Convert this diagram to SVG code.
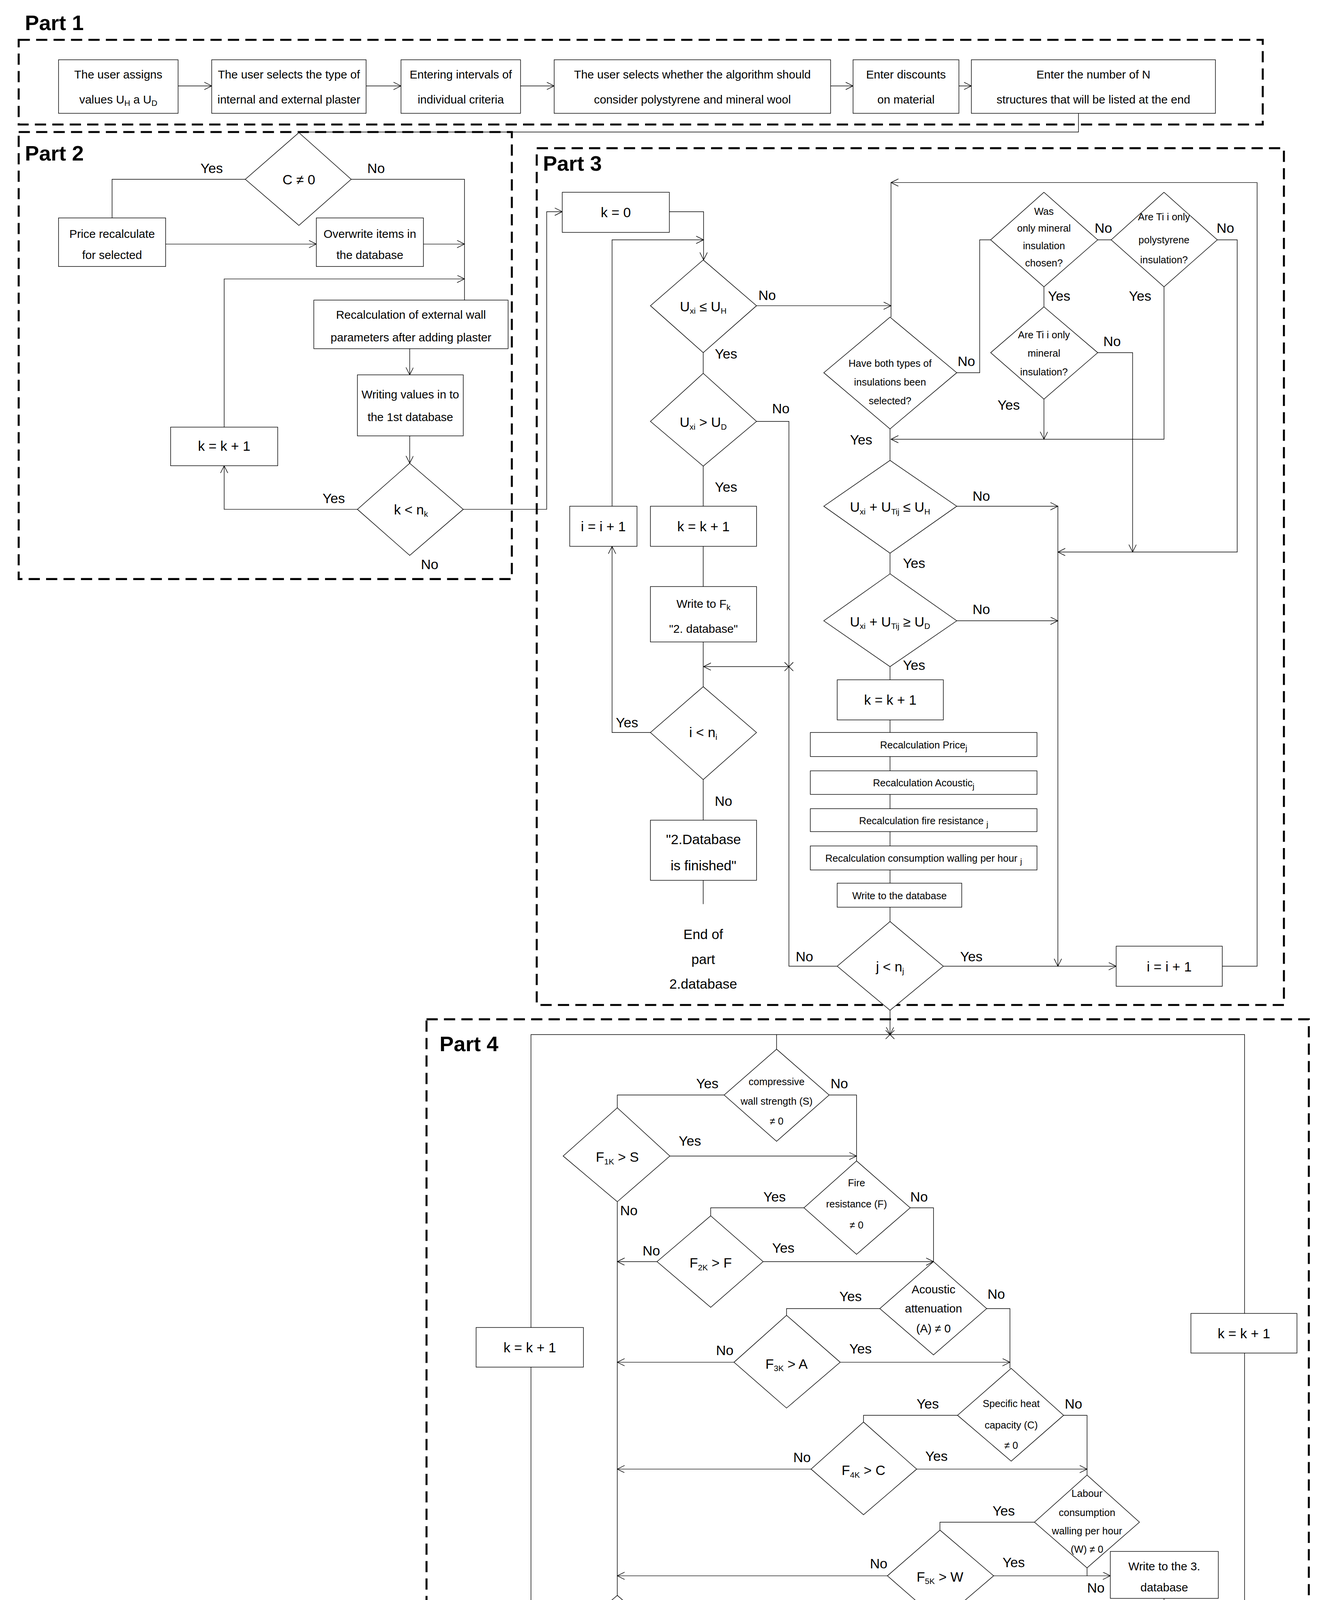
<svg xmlns="http://www.w3.org/2000/svg" width="3392" height="4999" viewBox="0 0 3392 4999">
<style>
.b{fill:#fff;stroke:#000;stroke-width:0.45}
.c{fill:none;stroke:#000;stroke-width:0.45}
.d{fill:none;stroke:#000;stroke-width:1.6;stroke-dasharray:9 5}
text{font-family:"Liberation Sans Narrow","Liberation Sans",Arial,sans-serif;fill:#000}
.t{font-size:9.3px;text-anchor:middle}
.s{font-size:8px;text-anchor:middle}
.l{font-size:11px;text-anchor:middle}
.p{font-size:17px;font-weight:bold;font-family:"Liberation Sans",Arial,sans-serif}
.u{font-size:6.5px}
</style>
<defs>
<marker id="a" markerUnits="userSpaceOnUse" markerWidth="7" markerHeight="7" refX="6" refY="3" orient="auto"><path d="M0,0 L6,3 L0,6" fill="none" stroke="#000" stroke-width="0.45"/></marker>
</defs>
<rect width="3392" height="4999" fill="#fff"/>
<g transform="scale(3.188)">
<g id="frames">
<rect class="d" x="15" y="32" width="999" height="68"/>
<rect class="d" x="15" y="106" width="396" height="359"/>
<rect class="d" x="431" y="119" width="600" height="688"/>
<rect class="d" x="342.5" y="818.5" width="708.5" height="738.5"/>
<text class="p" x="20" y="24">Part 1</text>
<text class="p" x="20" y="129">Part 2</text>
<text class="p" x="436" y="137">Part 3</text>
<text class="p" x="353" y="844">Part 4</text>
</g>
<g id="connectors">
<polyline class="c" marker-end="url(#a)" points="143,69 170,69"/>
<polyline class="c" marker-end="url(#a)" points="294,69 322,69"/>
<polyline class="c" marker-end="url(#a)" points="418,69 445,69"/>
<polyline class="c" marker-end="url(#a)" points="667,69 685,69"/>
<polyline class="c" marker-end="url(#a)" points="770,69 780,69"/>
<polyline class="c" points="866,91 866,106 240,106"/>
<polyline class="c" points="197,144 90,144 90,175"/>
<polyline class="c" marker-end="url(#a)" points="133,196 254,196"/>
<polyline class="c" points="282,144 373,144 373,241"/>
<polyline class="c" marker-end="url(#a)" points="340,196 373,196"/>
<polyline class="c" marker-end="url(#a)" points="180,343 180,224 373,224"/>
<polyline class="c" marker-end="url(#a)" points="329,280 329,301"/>
<polyline class="c" marker-end="url(#a)" points="329,350 329,372"/>
<polyline class="c" marker-end="url(#a)" points="287,409 180,409 180,374"/>
<polyline class="c" marker-end="url(#a)" points="372,409 439,409 439,170 451.5,170"/>
<polyline class="c" marker-end="url(#a)" points="537.5,170 565,170 565,208.7"/>
<polyline class="c" marker-end="url(#a)" points="491.5,406.5 491.5,192.6 565,192.6"/>
<polyline class="c" points="564.7,283.2 564.7,299.8"/>
<polyline class="c" marker-end="url(#a)" points="607.5,245.5 715.5,245.5"/>
<polyline class="c" points="564.7,374.3 564.7,551.4"/>
<polyline class="c" marker-end="url(#a)" points="633.5,535.3 565,535.3"/>
<polyline class="c" points="607.5,338.4 633.5,338.4 633.5,775.9 672.3,775.9"/>
<path class="c" d="M630,531.8 L637,538.8 M637,531.8 L630,538.8"/>
<polyline class="c" marker-end="url(#a)" points="522.3,588.2 491.5,588.2 491.5,438.7"/>
<polyline class="c" points="564.7,626 564.7,726"/>
<polyline class="c" marker-end="url(#a)" points="981.5,775.9 1009.5,775.9 1009.5,146.6 715.5,146.6"/>
<polyline class="c" points="715.5,146.6 715.5,254.7"/>
<polyline class="c" points="768.3,299.3 786.7,299.3 786.7,192.6 795.5,192.6"/>
<polyline class="c" points="881.5,192.6 892.3,192.6"/>
<polyline class="c" marker-end="url(#a)" points="977.5,192.6 993.5,192.6 993.5,443.3 849.5,443.3"/>
<polyline class="c" marker-end="url(#a)" points="934.7,230.3 934.7,352.7 715.5,352.7"/>
<polyline class="c" points="838.3,230.3 838.3,246.4"/>
<polyline class="c" marker-end="url(#a)" points="881.5,283.2 909.5,283.2 909.5,443.3"/>
<polyline class="c" marker-end="url(#a)" points="838.3,320.5 838.3,352.7"/>
<polyline class="c" points="714.7,344.4 714.7,369.7"/>
<polyline class="c" marker-end="url(#a)" points="768.3,406.5 849.5,406.5"/>
<polyline class="c" marker-end="url(#a)" points="849.5,406.5 849.5,775.9"/>
<polyline class="c" points="714.7,444.2 714.7,460.8"/>
<polyline class="c" marker-end="url(#a)" points="768.3,498.5 849.5,498.5"/>
<polyline class="c" points="714.7,535.3 714.7,740"/>
<polyline class="c" marker-end="url(#a)" points="757.5,775.9 896.3,775.9"/>
<polyline class="c" marker-end="url(#a)" points="714.7,811.3 714.7,830.8"/>
<path class="c" d="M711.2,827.3 L718.2,834.3 M718.2,827.3 L711.2,834.3"/>
<polyline class="c" points="452.6,1317.8 426.4,1317.8 426.4,830.8 999.4,830.8 999.4,1332.5 977.4,1332.5"/>
<polyline class="c" points="623.6,830.8 623.6,842.5"/>
<polyline class="c" points="581.5,879.3 495.7,879.3 495.7,889.6"/>
<polyline class="c" points="665.8,879.3 687.8,879.3 687.8,932.2"/>
<polyline class="c" marker-end="url(#a)" points="537.9,928.3 687.8,928.3"/>
<polyline class="c" points="495.7,965 495.7,1281.1"/>
<polyline class="c" points="645.6,969.9 570.7,969.9 570.7,976.3"/>
<polyline class="c" points="730.9,969.9 749.6,969.9 749.6,1013.1"/>
<polyline class="c" marker-end="url(#a)" points="527.6,1013.1 495.7,1013.1"/>
<polyline class="c" marker-end="url(#a)" points="612.8,1013.1 749.6,1013.1"/>
<polyline class="c" points="706.5,1050.8 631.6,1050.8 631.6,1056.2"/>
<polyline class="c" points="792.3,1050.8 811,1050.8 811,1098.8"/>
<polyline class="c" marker-end="url(#a)" points="589.4,1093.9 495.7,1093.9"/>
<polyline class="c" marker-end="url(#a)" points="674.7,1093.9 811,1093.9"/>
<polyline class="c" points="768.9,1136.5 693.4,1136.5 693.4,1141.9"/>
<polyline class="c" points="854.1,1136.5 872.9,1136.5 872.9,1184.5"/>
<polyline class="c" marker-end="url(#a)" points="651.3,1179.7 495.7,1179.7"/>
<polyline class="c" marker-end="url(#a)" points="736.1,1179.7 872.9,1179.7"/>
<polyline class="c" points="830.7,1222.3 754.8,1222.3 754.8,1228.7"/>
<polyline class="c" points="872.9,1259 872.9,1265.4"/>
<polyline class="c" marker-end="url(#a)" points="712.6,1265.4 495.7,1265.4"/>
<polyline class="c" marker-end="url(#a)" points="797.9,1265.4 891.6,1265.4"/>
<polyline class="c" points="934.7,1283.5 934.7,1416.3"/>
<polyline class="c" marker-end="url(#a)" points="891.6,1454 864.9,1454 864.9,1393.8 891.6,1393.8"/>
<polyline class="c" points="977.4,1454 994.7,1454 994.7,1484.9"/>
<polyline class="c" points="495.7,1355 495.7,1386.9"/>
</g>
<g id="n1"><rect class="b" x="47" y="48" width="96" height="43"/><text class="t" x="95" y="63">The user assigns</text><text class="t" x="95" y="83">values U<tspan class="u" dy="2">H</tspan><tspan dy="-2"> a U</tspan><tspan class="u" dy="2">D</tspan></text></g>
<g id="n2"><rect class="b" x="170" y="48" width="124" height="43"/><text class="t" x="232" y="63">The user selects the type of</text><text class="t" x="232" y="83">internal and external plaster</text></g>
<g id="n3"><rect class="b" x="322" y="48" width="96" height="43"/><text class="t" x="370" y="63">Entering intervals of</text><text class="t" x="370" y="83">individual criteria</text></g>
<g id="n4"><rect class="b" x="445" y="48" width="222" height="43"/><text class="t" x="556" y="63">The user selects whether the algorithm should</text><text class="t" x="556" y="83">consider polystyrene and mineral wool</text></g>
<g id="n5"><rect class="b" x="685" y="48" width="85" height="43"/><text class="t" x="727.5" y="63">Enter discounts</text><text class="t" x="727.5" y="83">on material</text></g>
<g id="n6"><rect class="b" x="780" y="48" width="196" height="43"/><text class="t" x="878" y="63">Enter the number of N</text><text class="t" x="878" y="83">structures that will be listed at the end</text></g>
<g id="c0"><polygon class="b" points="240,106.5 282,144 240,181 197,144"/><text class="l" x="240" y="148">C ≠ 0</text><text class="l" x="170" y="139">Yes</text><text class="l" x="302" y="139">No</text></g>
<g id="price"><rect class="b" x="47" y="175" width="86" height="39"/><text class="t" x="90" y="191">Price recalculate</text><text class="t" x="90" y="208">for selected</text></g>
<g id="overw"><rect class="b" x="254" y="175" width="86" height="39"/><text class="t" x="297" y="191">Overwrite items in</text><text class="t" x="297" y="208">the database</text></g>
<g id="recalc"><rect class="b" x="252" y="241" width="156" height="39"/><text class="t" x="330" y="256">Recalculation of external wall</text><text class="t" x="330" y="274">parameters after adding plaster</text></g>
<g id="writ1"><rect class="b" x="287" y="301" width="85" height="49"/><text class="t" x="329.5" y="320">Writing values in to</text><text class="t" x="329.5" y="338">the 1st database</text></g>
<g id="knk"><polygon class="b" points="329,372 372,409 329,446 287,409"/><text class="l" x="330" y="413">k &lt; n<tspan class="u" dy="2">k</tspan></text><text class="l" x="268" y="404">Yes</text><text class="l" x="345" y="457">No</text></g>
<g id="k1a"><rect class="b" x="137" y="343" width="86" height="31"/><text class="l" x="180" y="362">k = k + 1</text></g>
<g id="k0"><rect class="b" x="451.5" y="154.4" width="86" height="32.2"/><text class="l" x="494.5" y="174.5">k =  0</text></g>
<g id="uxh"><polygon class="b" points="564.7,208.7 607.5,245.5 564.7,283.2 522.3,245.5"/><text class="l" x="564.7" y="250">U<tspan class="u" dy="2">xi</tspan><tspan dy="-2"> ≤ U</tspan><tspan class="u" dy="2">H</tspan></text><text class="l" x="616" y="241">No</text><text class="l" x="583" y="288">Yes</text></g>
<g id="uxd"><polygon class="b" points="564.7,299.8 607.5,338.4 564.7,374.3 522.3,338.4"/><text class="l" x="564.7" y="343">U<tspan class="u" dy="2">xi</tspan><tspan dy="-2"> &gt; U</tspan><tspan class="u" dy="2">D</tspan></text><text class="l" x="627" y="332">No</text><text class="l" x="583" y="395">Yes</text></g>
<g id="k1b"><rect class="b" x="522.3" y="406.5" width="85.2" height="32.2"/><text class="l" x="564.9" y="426.5">k = k + 1</text></g>
<g id="i1a"><rect class="b" x="457.5" y="406.5" width="54" height="32.2"/><text class="l" x="484.5" y="426.5">i = i + 1</text></g>
<g id="wfk"><rect class="b" x="522.3" y="471" width="85.2" height="44.5"/><text class="t" x="564.9" y="488">Write to F<tspan class="u" dy="2">k</tspan></text><text class="t" x="564.9" y="508">"2. database"</text></g>
<g id="ini"><polygon class="b" points="564.7,551.4 607.5,588.2 564.7,626 522.3,588.2"/><text class="l" x="564.7" y="592">i &lt; n<tspan class="u" dy="2">i</tspan></text><text class="l" x="503.5" y="584">Yes</text><text class="l" x="581" y="647">No</text></g>
<g id="fin"><rect class="b" x="522.3" y="658.6" width="85.2" height="48.3"/><text class="l" x="564.9" y="678">"2.Database</text><text class="l" x="564.9" y="699">is finished"</text></g>
<g id="end2"><text class="l" x="564.7" y="754">End of</text><text class="l" x="564.7" y="774">part</text><text class="l" x="564.7" y="794">2.database</text></g>
<g id="both"><polygon class="b" points="714.7,254.7 768.3,299.3 714.7,344.4 661.5,299.3"/><text class="s" x="714.7" y="294.5">Have both types of</text><text class="s" x="714.7" y="309.5">insulations been</text><text class="s" x="714.7" y="324.5">selected?</text><text class="l" x="776" y="294">No</text><text class="l" x="691.5" y="357">Yes</text></g>
<g id="wasmin"><polygon class="b" points="838.3,154.4 881.5,192.6 838.3,230.3 795.5,192.6"/><text class="s" x="838.3" y="172.5">Was</text><text class="s" x="838.3" y="186">only mineral</text><text class="s" x="838.3" y="200">insulation</text><text class="s" x="838.3" y="214">chosen?</text><text class="l" x="886" y="187">No</text><text class="l" x="850.5" y="241.5">Yes</text></g>
<g id="poly"><polygon class="b" points="934.7,154.4 977.5,192.6 934.7,230.3 892.3,192.6"/><text class="s" x="934.7" y="177">Are Ti i only</text><text class="s" x="934.7" y="195.5">polystyrene</text><text class="s" x="934.7" y="211.5">insulation?</text><text class="l" x="984" y="187">No</text><text class="l" x="915.5" y="241.5">Yes</text></g>
<g id="onlymin"><polygon class="b" points="838.3,246.4 881.5,283.2 838.3,320.5 795.5,283.2"/><text class="s" x="838.3" y="271.5">Are Ti i only</text><text class="s" x="838.3" y="286.5">mineral</text><text class="s" x="838.3" y="301.5">insulation?</text><text class="l" x="893" y="278">No</text><text class="l" x="810" y="329">Yes</text></g>
<g id="uh2"><polygon class="b" points="714.7,369.7 768.3,406.5 714.7,444.2 661.5,406.5"/><text class="l" x="714.7" y="411">U<tspan class="u" dy="2">xi</tspan><tspan dy="-2"> + U</tspan><tspan class="u" dy="2">Tij</tspan><tspan dy="-2"> ≤ U</tspan><tspan class="u" dy="2">H</tspan></text><text class="l" x="788" y="402">No</text><text class="l" x="734" y="456">Yes</text></g>
<g id="ud2"><polygon class="b" points="714.7,460.8 768.3,498.5 714.7,535.3 661.5,498.5"/><text class="l" x="714.7" y="503">U<tspan class="u" dy="2">xi</tspan><tspan dy="-2">  + U</tspan><tspan class="u" dy="2">Tij</tspan><tspan dy="-2"> ≥ U</tspan><tspan class="u" dy="2">D</tspan></text><text class="l" x="788" y="493">No</text><text class="l" x="734" y="538">Yes</text></g>
<g id="k1c"><rect class="b" x="672.3" y="545.9" width="85.2" height="32.2"/><text class="l" x="714.9" y="566">k = k + 1</text></g>
<g id="rp"><rect class="b" x="650.7" y="588.2" width="182" height="19.3"/><text class="s" x="741.7" y="601">Recalculation Price<tspan class="u" dy="2">j</tspan></text></g>
<g id="ra"><rect class="b" x="650.7" y="619" width="182" height="18.9"/><text class="s" x="741.7" y="631.5">Recalculation Acoustic<tspan class="u" dy="2">j</tspan></text></g>
<g id="rf"><rect class="b" x="650.7" y="649.4" width="182" height="18.4"/><text class="s" x="741.7" y="662">Recalculation fire resistance <tspan class="u" dy="2">j</tspan></text></g>
<g id="rc"><rect class="b" x="650.7" y="679.3" width="182" height="19.3"/><text class="s" x="741.7" y="692">Recalculation consumption walling per hour <tspan class="u" dy="2">j</tspan></text></g>
<g id="wdb"><rect class="b" x="672.3" y="709.2" width="100" height="19.3"/><text class="s" x="722.3" y="722">Write to the database</text></g>
<g id="jnj"><polygon class="b" points="714.7,740 757.5,775.9 714.7,811.3 672.3,775.9"/><text class="l" x="714.7" y="780">j &lt; n<tspan class="u" dy="2">j</tspan></text><text class="l" x="646" y="772">No</text><text class="l" x="780" y="772">Yes</text></g>
<g id="i1b"><rect class="b" x="896.3" y="759.8" width="85.2" height="32.2"/><text class="l" x="938.9" y="780">i = i + 1</text></g>
<g id="comp"><polygon class="b" points="623.6,842.5 665.8,879.3 623.6,916.5 581.5,879.3"/><text class="s" x="623.6" y="871.5">compressive</text><text class="s" x="623.6" y="887">wall strength (S)</text><text class="s" x="623.6" y="903">≠ 0</text><text class="l" x="568" y="874">Yes</text><text class="l" x="674" y="874">No</text></g>
<g id="f1"><polygon class="b" points="495.7,889.6 537.9,928.3 495.7,965 452.2,928.3"/><text class="l" x="495.7" y="933">F<tspan class="u" dy="2">1K</tspan><tspan dy="-2"> &gt; S</tspan></text><text class="l" x="554" y="920">Yes</text><text class="l" x="505" y="976">No</text></g>
<g id="fire"><polygon class="b" points="687.8,932.2 730.9,969.9 687.8,1007.2 645.6,969.9"/><text class="s" x="687.8" y="952.5">Fire</text><text class="s" x="687.8" y="969.5">resistance (F)</text><text class="s" x="687.8" y="986.5">≠ 0</text><text class="l" x="622" y="965">Yes</text><text class="l" x="738" y="965">No</text></g>
<g id="f2"><polygon class="b" points="570.7,976.3 612.8,1013.1 570.7,1049.8 527.6,1013.1"/><text class="l" x="570.7" y="1018">F<tspan class="u" dy="2">2K</tspan><tspan dy="-2"> &gt; F</tspan></text><text class="l" x="523" y="1008">No</text><text class="l" x="629" y="1006">Yes</text></g>
<g id="acou"><polygon class="b" points="749.6,1013.1 792.3,1050.8 749.6,1088 706.5,1050.8"/><text class="t" x="749.6" y="1038.5">Acoustic</text><text class="t" x="749.6" y="1054">attenuation</text><text class="t" x="749.6" y="1070">(A) ≠ 0</text><text class="l" x="683" y="1045">Yes</text><text class="l" x="800" y="1043">No</text></g>
<g id="f3"><polygon class="b" points="631.6,1056.2 674.7,1093.9 631.6,1130.7 589.4,1093.9"/><text class="l" x="631.6" y="1099">F<tspan class="u" dy="2">3K</tspan><tspan dy="-2"> &gt; A</tspan></text><text class="l" x="582" y="1088">No</text><text class="l" x="691" y="1087">Yes</text></g>
<g id="spec"><polygon class="b" points="812,1098.8 854.1,1136.5 812,1173.3 768.9,1136.5"/><text class="s" x="812" y="1130">Specific heat</text><text class="s" x="812" y="1147">capacity (C)</text><text class="s" x="812" y="1163.5">≠ 0</text><text class="l" x="745" y="1131">Yes</text><text class="l" x="862" y="1131">No</text></g>
<g id="f4"><polygon class="b" points="693.4,1141.9 736.1,1179.7 693.4,1216.4 651.3,1179.7"/><text class="l" x="693.4" y="1184.5">F<tspan class="u" dy="2">4K</tspan><tspan dy="-2"> &gt; C</tspan></text><text class="l" x="644" y="1174">No</text><text class="l" x="752" y="1173">Yes</text></g>
<g id="lab"><polygon class="b" points="872.9,1184.5 915,1222.3 872.9,1259 830.7,1222.3"/><text class="s" x="872.9" y="1202">Labour</text><text class="s" x="872.9" y="1217.5">consumption</text><text class="s" x="872.9" y="1232">walling per hour</text><text class="s" x="872.9" y="1247">(W) ≠ 0</text><text class="l" x="806" y="1217">Yes</text><text class="l" x="880" y="1279">No</text></g>
<g id="f5"><polygon class="b" points="754.8,1228.7 797.9,1265.4 754.8,1302.2 712.6,1265.4"/><text class="l" x="754.8" y="1270">F<tspan class="u" dy="2">5K</tspan><tspan dy="-2"> &gt; W</tspan></text><text class="l" x="705.6" y="1259.5">No</text><text class="l" x="814" y="1258.5">Yes</text></g>
<g id="w3"><rect class="b" x="891.6" y="1245.8" width="86.7" height="37.7"/><text class="t" x="934.9" y="1261">Write to the 3.</text><text class="t" x="934.9" y="1278">database</text></g>
<g id="knr"><polygon class="b" points="934.7,1294.8 977.4,1332.5 934.7,1369.3 891.6,1332.5"/><text class="l" x="934.7" y="1337">k &lt; n</text><text class="l" x="988" y="1327">No</text><text class="l" x="925" y="1381">Yes</text></g>
<g id="k1r"><rect class="b" x="956.3" y="1054.7" width="85.2" height="31.8"/><text class="l" x="998.9" y="1074.5">k = k + 1</text></g>
<g id="show"><rect class="b" x="891.6" y="1383" width="86.7" height="21"/><text class="t" x="934.9" y="1397">Show the structure</text></g>
<g id="k1s"><rect class="b" x="822.3" y="1418.3" width="84.8" height="15.2"/><text class="l" x="864.7" y="1430">k = k + 1</text></g>
<g id="kN"><polygon class="b" points="934.7,1416.3 977.4,1454 934.7,1490.8 891.6,1454"/><text class="l" x="934.7" y="1458">k ≤ N</text><text class="l" x="870" y="1475">Yes</text><text class="l" x="987" y="1480">No</text></g>
<g id="disp"><rect class="b" x="952.5" y="1484.9" width="84.3" height="60.8"/><text class="t" x="994.7" y="1498.5">Displays the</text><text class="t" x="994.7" y="1520">resulting N number</text><text class="t" x="994.7" y="1541">of structures</text></g>
<g id="k1l"><rect class="b" x="382.3" y="1066" width="86.2" height="31.8"/><text class="l" x="425.4" y="1086">k = k + 1</text></g>
<g id="knl"><polygon class="b" points="495.7,1281.1 537.9,1317.8 495.7,1355 452.6,1317.8"/><text class="l" x="495.7" y="1322">k &lt; n</text><text class="l" x="439.5" y="1313">Yes</text><text class="l" x="511" y="1376">No</text></g>
<g id="nos"><rect class="b" x="452.2" y="1386.9" width="85.7" height="67.1"/><text class="t" x="495" y="1400">"no structures</text><text class="t" x="495" y="1423">corresponds to</text><text class="t" x="495" y="1446">entered criteria"</text></g>
</g>
</svg>
